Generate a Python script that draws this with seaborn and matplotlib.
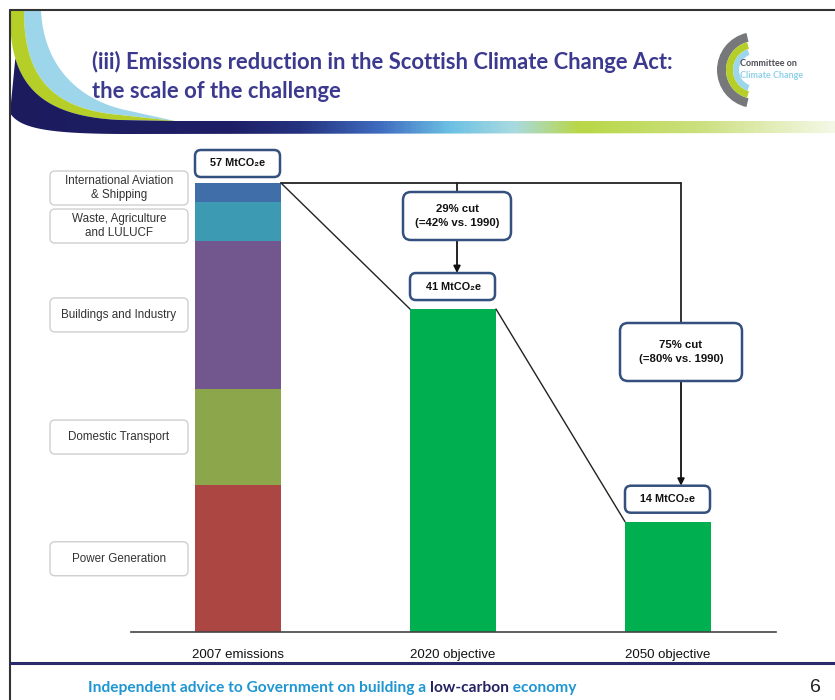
import numpy as np
import pandas as pd
import matplotlib
matplotlib.use("Agg")
import matplotlib.pyplot as plt
import seaborn as sns
from matplotlib.patches import FancyBboxPatch, Polygon, Wedge
from matplotlib.colors import LinearSegmentedColormap

# ---------------- data ----------------
categories = ["2007 emissions", "2020 objective", "2050 objective"]
sectors = ["Power Generation", "Domestic Transport", "Buildings and Industry",
           "Waste, Agriculture\nand LULUCF", "International Aviation\n& Shipping"]
sector_values_2007 = [18.6, 12.3, 18.7, 5.0, 2.4]
objective_categories = ["2020 objective", "2050 objective"]
objective_values = [41, 14]
total_labels = ["57 MtCO₂e", "41 MtCO₂e", "14 MtCO₂e"]
cut_labels = ["29% cut\n(=42% vs. 1990)", "75% cut\n(=80% vs. 1990)"]
sector_colors = ["#ab4642", "#8ba64b", "#72578f", "#3c9ab2", "#3f6ea8"]
objective_color = "#00b050"

title_lines = ["(iii) Emissions reduction in the Scottish Climate Change Act:",
               "the scale of the challenge"]
footer_parts = ["Independent advice to Government on building a ", "low-carbon", " economy"]
page_number = "6"

# ---------------- setup ----------------
W, H = 835, 700
sns.set_theme(style="white")
plt.rcParams['font.family'] = ['Liberation Sans', 'DejaVu Sans']

fig = plt.figure(figsize=(W / 100, H / 100), dpi=100)
fig.patch.set_facecolor("white")

bg = fig.add_axes([0, 0, 1, 1], zorder=0)
bg.set_xlim(0, W); bg.set_ylim(H, 0); bg.axis("off")

# ---- header decoration (swoosh) ----
tt = np.linspace(0, 1, 150)[:, None]

def bez(p0, p1, p2, p3):
    p0, p1, p2, p3 = map(np.asarray, (p0, p1, p2, p3))
    return ((1 - tt) ** 3) * p0 + 3 * ((1 - tt) ** 2) * tt * p1 + 3 * (1 - tt) * tt ** 2 * p2 + tt ** 3 * p3

lime_outer = np.vstack([bez((10, 11), (9, 80), (35, 116), (120, 120)), [[175, 121]]])
lime_inner = np.vstack([bez((24, 11), (24, 75), (50, 109), (120, 115)), [[175, 121]]])
blue_inner = np.vstack([bez((41, 11), (44, 66), (78, 101), (130, 111)), [[175, 121]]])

bg.add_patch(Polygon(np.vstack([lime_inner, blue_inner[::-1]]), closed=True,
                     facecolor="#9dd6ea", edgecolor="none", zorder=1))
bg.add_patch(Polygon(np.vstack([lime_outer, lime_inner[::-1]]), closed=True,
                     facecolor="#b5cf28", edgecolor="none", zorder=1))

navy_top = lime_outer[lime_outer[:, 1] >= 58]
navy_bot = bez((10, 113), (20, 129), (50, 134), (130, 134))
navy_pts = np.vstack([navy_top, [[W, 121], [W, 133]], navy_bot[::-1]])
navy_path = Polygon(navy_pts, closed=True, facecolor="none", edgecolor="none")
bg.add_patch(navy_path)
stops = [(10, "#1c1b5e"), (230, "#1e1f66"), (300, "#25337f"), (380, "#3f6cc0"),
         (450, "#6cc0e4"), (515, "#a9dae0"), (580, "#b9d746"), (700, "#cbe07e"), (W, "#f4f8e6")]
cmap = LinearSegmentedColormap.from_list("hdr", [((x - 10) / (W - 10), c) for x, c in stops])
grad = np.linspace(0, 1, 600)[None, :]
im = bg.imshow(grad, cmap=cmap, extent=[10, W, 140, 11], aspect="auto", zorder=2)
im.set_clip_path(navy_path)
bg.set_xlim(0, W); bg.set_ylim(H, 0)

# borders
bg.plot([10, W], [10, 10], color="#333333", lw=1.5, zorder=3)
bg.plot([10, 10], [10, H], color="#333333", lw=1.5, zorder=3)
bg.plot([10, W], [663, 663], color="#2a2a6a", lw=2.2, zorder=3)

# title
for i, line in enumerate(title_lines):
    bg.text(92, 62 + i * 30, line, fontsize=15.8, fontweight="bold", color="#3c3a8e",
            family=["Lato", "DejaVu Sans"], va="center", ha="left", zorder=4)

# logo
lc = (755, 70)
bg.add_patch(Wedge(lc, 38, 103, 257, width=9, facecolor="#77787b", edgecolor="none", zorder=3))
bg.add_patch(Wedge(lc, 29, 106, 254, width=7, facecolor="#b5cf28", edgecolor="none", zorder=3))
bg.add_patch(Wedge(lc, 22, 110, 250, width=6, facecolor="#9dd6ea", edgecolor="none", zorder=3))
bg.text(740, 63, "Committee on", fontsize=6.5, fontweight="bold", color="#4d4d55",
        family=["Lato", "DejaVu Sans"], va="center", ha="left", zorder=4)
bg.text(740, 75, "Climate Change", fontsize=6.5, fontweight="bold", color="#8fd0ea",
        family=["Lato", "DejaVu Sans"], va="center", ha="left", zorder=4)

# footer
ffam = ["Lato", "DejaVu Sans"]
fs = 11.15
t1 = bg.text(88, 688, footer_parts[0], fontsize=fs, fontweight="bold", color="#1e96d2",
             family=ffam, va="center", ha="left", zorder=4)
t2 = bg.annotate(footer_parts[1], xycoords=t1, xy=(1, 0.5), va="center", ha="left",
                 fontsize=fs, fontweight="bold", color="#262262", family=ffam)
t3 = bg.annotate(footer_parts[2], xycoords=t2, xy=(1, 0.5), va="center", ha="left",
                 fontsize=fs, fontweight="bold", color="#1e96d2", family=ffam)
bg.text(815, 688, page_number, fontsize=14, color="#222222", va="center", ha="center", zorder=4)

# ---------------- main chart ----------------
px_per_unit = 449 / 57
ymax = 60
ax = fig.add_axes([130.5 / W, 68 / H, 645 / W, ymax * px_per_unit / H], zorder=2)
ax.patch.set_alpha(0)

cum = np.cumsum(sector_values_2007)
for i in reversed(range(len(sector_values_2007))):
    sns.barplot(x=[categories[0]], y=[cum[i]], order=categories, color=sector_colors[i],
                saturation=1, width=0.4, linewidth=0, ax=ax)
sns.barplot(x=objective_categories, y=objective_values, order=categories, color=objective_color,
            saturation=1, width=0.4, linewidth=0, ax=ax)

ax.set_xlim(-0.5, 2.5)
ax.set_ylim(0, ymax)
ax.set_yticks([])
ax.set_xlabel(""); ax.set_ylabel("")
sns.despine(ax=ax, left=True)
ax.spines["bottom"].set_color("#444444")
ax.spines["bottom"].set_linewidth(1.2)
ax.tick_params(axis="x", length=0, pad=12, labelsize=9.5, labelcolor="#111111")

# ---------------- overlay annotations ----------------
ov = fig.add_axes([0, 0, 1, 1], zorder=5)
ov.set_xlim(0, W); ov.set_ylim(H, 0); ov.axis("off")
ov.patch.set_alpha(0)

def px(x, y):
    d = ax.transData.transform((x, y))
    return d[0], H - d[1]

half = 0.2
total_2007 = float(cum[-1])
tops = [total_2007] + objective_values
line_kw = dict(color="#222222", lw=1.0, zorder=2)

for i in range(2):
    a = px(i + half, tops[i]); b = px(i + 1 - half, tops[i + 1])
    ov.plot([a[0], b[0]], [a[1], b[1]], **line_kw)

def rbox(x0, y0, w, h, edge, lw, rs=6, fc="white"):
    ov.add_patch(FancyBboxPatch((x0, y0), w, h, boxstyle=f"round,pad=0,rounding_size={rs}",
                                facecolor=fc, edgecolor=edge, linewidth=lw, zorder=3))

edge_blue = "#34507e"

for i, lab in enumerate(total_labels):
    lx, ty = px(i - half, tops[i])
    rx, _ = px(i + half, tops[i])
    bh = 27
    gap = 6 if i == 0 else 9
    rbox(lx, ty - gap - bh, rx - lx - 1, bh, edge_blue, 1.8)
    ov.text((lx + rx) / 2, ty - gap - bh / 2, lab, fontsize=7.8, fontweight="bold",
            color="#111111", ha="center", va="center", zorder=4)

x07r, y07 = px(half, total_2007)
x20c, _ = px(1, 0)
x50c, _ = px(2, 0)
v20 = x20c + 4
v50 = x50c + 13
ov.plot([x07r, v50], [y07, y07], color="#222222", lw=1.3, zorder=2)

cut_boxes = [(v20, 192, 108, 48), (v50, 323, 122, 58)]
for i, (vx, by, bw, bh) in enumerate(cut_boxes):
    ov.plot([vx, vx], [y07, by], color="#222222", lw=1.3, zorder=2)
    rbox(vx - bw / 2, by, bw, bh, edge_blue, 1.8, rs=8)
    ov.text(vx, by + bh / 2, cut_labels[i], fontsize=8.2, fontweight="bold", color="#111111",
            ha="center", va="center", linespacing=1.45, zorder=4)
    _, bar_top = px(i + 1, objective_values[i])
    target = bar_top - 9 - 27
    ov.annotate("", xy=(vx, target), xytext=(vx, by + bh),
                arrowprops=dict(arrowstyle="-|>", color="#111111", lw=1.3,
                                mutation_scale=10, shrinkA=0, shrinkB=0), zorder=2)

bounds = np.concatenate([[0], cum])
mids = [px(0, (bounds[i] + bounds[i + 1]) / 2)[1] for i in range(len(sectors))]
label_y = list(mids)
min_gap = 38
for i in range(len(label_y) - 1):
    gap = label_y[i] - label_y[i + 1]
    if gap < min_gap:
        d = (min_gap - gap) / 2
        label_y[i] += d
        label_y[i + 1] -= d
for lab, yc in zip(sectors, label_y):
    bh = 34
    rbox(50, yc - bh / 2, 138, bh, "#cfcfcf", 1.0, rs=5)
    ov.text(119, yc, lab, fontsize=8.4, color="#333333", ha="center", va="center",
            linespacing=1.15, zorder=4)

fig.savefig("out.png", dpi=100)
